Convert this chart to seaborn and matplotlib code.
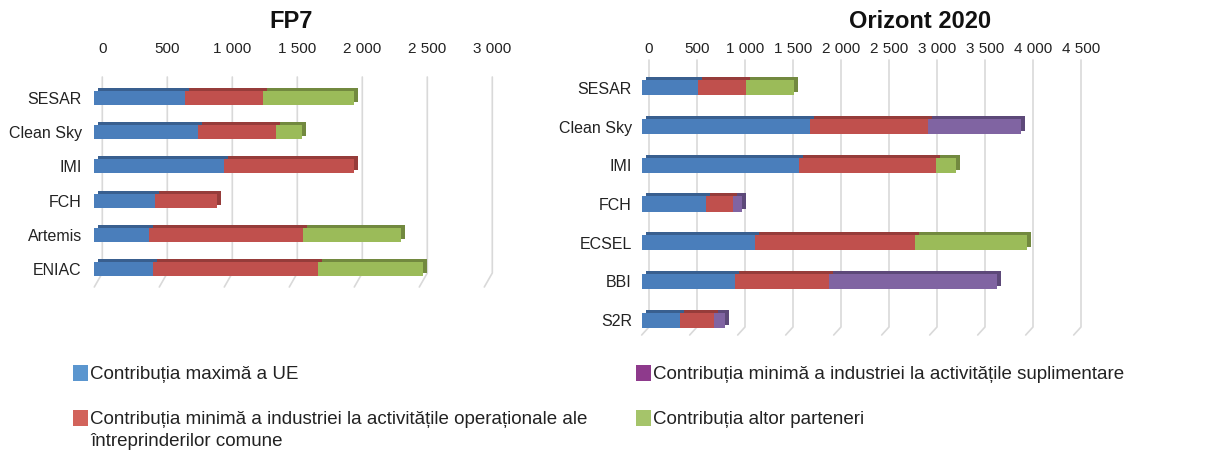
import numpy as np
import pandas as pd
import matplotlib
matplotlib.use("Agg")
import matplotlib.pyplot as plt
import seaborn as sns
from matplotlib.transforms import ScaledTranslation, IdentityTransform
from matplotlib.lines import Line2D
from matplotlib.patches import Rectangle

sns.set_theme(style="white")
plt.rcParams['font.family'] = ['Liberation Sans', 'DejaVu Sans']

# FP7 data (million EUR)
fp7_cats = ["SESAR", "Clean Sky", "IMI", "FCH", "Artemis", "ENIAC"]
fp7_eu = [700, 800, 1000, 470, 420, 450]
fp7_ind_op = [600, 600, 1000, 470, 1185, 1270]
fp7_other = [700, 200, 0, 0, 755, 810]
fp7_ticks = [0, 500, 1000, 1500, 2000, 2500, 3000]

# Horizon 2020 data
h2020_cats = ["SESAR", "Clean Sky", "IMI", "FCH", "ECSEL", "BBI", "S2R"]
h2020_eu = [585, 1755, 1638, 665, 1185, 975, 398]
h2020_ind_op = [500, 1228, 1425, 285, 1657, 975, 350]
h2020_ind_add = [0, 965, 0, 95, 0, 1755, 120]
h2020_other = [500, 0, 213, 0, 1170, 0, 0]
h2020_ticks = [0, 500, 1000, 1500, 2000, 2500, 3000, 3500, 4000, 4500]

legend_labels = ["Contribuția maximă a UE",
                 "Contribuția minimă a industriei la activitățile operaționale ale\nîntreprinderilor comune",
                 "Contribuția minimă a industriei la activitățile suplimentare",
                 "Contribuția altor parteneri"]

BLUE, RED, GREEN, PURPLE = "#4A7EBB", "#C0504D", "#9BBB59", "#8064A2"
DARK = {BLUE: "#395F8F", RED: "#963C3A", GREEN: "#72893F", PURPLE: "#5D4979"}
legend_colors = ["#5B96CF", "#D2635B", "#8E3A8C", "#A5C46A"]

W, H = 1209, 450
fig = plt.figure(figsize=(W / 100, H / 100), dpi=100)


def fmt(v):
    return f"{v:,}".replace(",", " ")


def panel(rect, cats, layers, width, ticks, dx, xpad, ypad, grid_top, grid_vbot, grid_sbot):
    ax = fig.add_axes([rect[0] / W, 1 - rect[3] / H, (rect[2] - rect[0]) / W, (rect[3] - rect[1]) / H])
    ax.patch.set_visible(False)
    cum = np.cumsum([l[0] for l in layers], axis=0)
    back = ScaledTranslation(4 / 100, 3 / 100, fig.dpi_scale_trans)
    # darker copies behind -> top and side faces of the 3D bars
    for k in reversed(range(len(layers))):
        n0 = len(ax.patches)
        sns.barplot(x=cum[k], y=cats, color=DARK[layers[k][1]], width=width,
                    saturation=1, linewidth=0, orient="h", ax=ax)
        for p in ax.patches[n0:]:
            p.set_transform(ax.transData + back)
    for k in reversed(range(len(layers))):
        sns.barplot(x=cum[k], y=cats, color=layers[k][1], width=width,
                    saturation=1, linewidth=0, orient="h", ax=ax)
    ax.set(xlabel="", ylabel="")
    ax.set_xlim(0, ticks[-1])
    ax.set_ylim(len(cats) - 0.5, -0.5)
    ax.xaxis.tick_top()
    ax.set_xticks(ticks)
    ax.set_xticklabels([fmt(t) for t in ticks])
    ax.tick_params(axis="x", length=0, pad=xpad, labelsize=11, labelcolor="#222222")
    ax.tick_params(axis="y", length=0, pad=ypad, labelsize=11.5, labelcolor="#222222")
    for lbl in ax.get_xticklabels():
        lbl.set_transform(lbl.get_transform() + ScaledTranslation(dx / 100, 0, fig.dpi_scale_trans))
    for s in ax.spines.values():
        s.set_visible(False)
    # gridlines on the back wall + slanted floor part
    y_top = H - rect[1]
    y_bot = H - rect[3]
    for v in ticks:
        x = ax.transData.transform((v, 0))[0]
        fig.add_artist(Line2D([x + dx, x + dx, x],
                              [y_top + grid_top, y_bot + grid_vbot, y_bot + grid_sbot],
                              transform=IdentityTransform(), color="#D9D9D9", lw=1.2, zorder=-1))
    return ax


panel((94.3, 81, 484.3, 286), fp7_cats,
      [(fp7_eu, BLUE), (fp7_ind_op, RED), (fp7_other, GREEN)],
      0.41, fp7_ticks, 8, 18, 9, 4, 13, -1)
panel((641.7, 68.6, 1073.7, 339.4), h2020_cats,
      [(h2020_eu, BLUE), (h2020_ind_op, RED), (h2020_ind_add, PURPLE), (h2020_other, GREEN)],
      0.39, h2020_ticks, 7.3, 9, 7, 8.6, 12.4, 4.4)

fig.text(291 / W, 1 - 21 / H, "FP7", ha="center", va="center", fontsize=17, fontweight="bold", color="#111111")
fig.text(920 / W, 1 - 21 / H, "Orizont 2020", ha="center", va="center", fontsize=17, fontweight="bold", color="#111111")

leg_pos = [(73, 365), (73, 410), (636, 365), (636, 410)]
for (x, y), lab, col in zip(leg_pos, legend_labels, legend_colors):
    fig.add_artist(Rectangle((x / W, 1 - (y + 16) / H), 15 / W, 16 / H, transform=fig.transFigure,
                             color=col, lw=0))
    fig.text((x + 17) / W, 1 - (y + 1) / H, lab, ha="left", va="top", fontsize=13.5,
             linespacing=1.4, color="#222222")

fig.savefig("out.png", dpi=100, facecolor="white")
